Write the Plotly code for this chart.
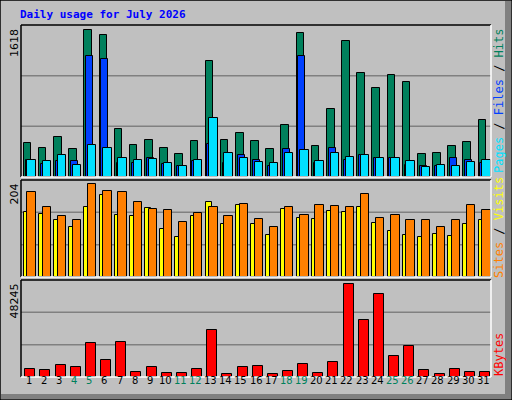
import plotly.graph_objects as go

days = list(range(1, 32))
day_labels = [str(d) for d in days]
weekend = [4, 5, 11, 12, 18, 19, 25, 26]
hits = [360,307,423,296,1566,1513,508,339,391,307,243,381,1238,391,465,381,296,550,1534,328,719,1449,1111,952,1090,1016,243,254,328,370,603]
files = [180,138,169,169,1291,1259,148,148,201,138,116,169,349,148,233,180,116,296,1291,148,307,180,233,201,201,127,116,116,201,180,148]
pages = [180,169,233,127,339,307,201,180,190,148,116,180,624,254,201,159,148,254,286,169,254,212,233,201,201,169,106,127,116,159,180]
sites = [136,132,119,106,147,172,130,128,145,102,85,128,157,111,151,111,89,142,125,123,138,136,147,113,96,89,85,91,87,111,119]
visits = [179,147,128,119,196,181,179,157,142,140,115,134,147,128,153,123,106,147,130,151,149,147,174,125,130,119,119,106,119,151,140]
kbytes = [4021,3518,6031,5026,17088,8544,17591,2513,5026,2010,2010,4021,23622,1508,5026,5529,1508,3016,6534,2010,7539,46239,28146,41213,10555,15581,3518,1508,4021,2513,2513]
max_hits, max_sites, max_kb = 1618, 204, 48245

fig = go.Figure()
ln = dict(color="black", width=1)
def bar(y, color, off, w, ax):
    fig.add_trace(go.Bar(x=days, y=y, marker=dict(color=color, line=ln), offset=off, width=w,
                         xaxis="x", yaxis=ax, hoverinfo="skip"))
bar(hits, "#00805C", -0.32, 0.5, "y")
bar(files, "#0040FF", -0.2, 0.45, "y")
bar(pages, "#00E0FF", -0.08, 0.55, "y")
bar(sites, "#FFFF00", -0.32, 0.4, "y2")
bar(visits, "#FF8000", -0.08, 0.55, "y2")
bar(kbytes, "#FF0000", -0.22, 0.66, "y3")

X0, X1 = 21/512, 491/512
def dom(a, b): return [1 - b/400, 1 - a/400]
ya = dict(showticklabels=False, showgrid=False, zeroline=False, fixedrange=True)
fig.update_layout(
    width=512, height=400, margin=dict(l=0, r=0, t=0, b=0), showlegend=False,
    paper_bgcolor="#C0C0C0", plot_bgcolor="#C0C0C0", barmode="overlay", bargap=0,
    xaxis=dict(domain=[X0, X1], range=[0.5, 31.5], showticklabels=False, showgrid=False, zeroline=False, anchor="y3"),
    yaxis=dict(domain=dom(25, 177), range=[0, max_hits], **ya),
    yaxis2=dict(domain=dom(180, 277), range=[0, max_sites], **ya),
    yaxis3=dict(domain=dom(280, 377), range=[0, max_kb], **ya),
)
shapes = []
for a in ["y", "y2", "y3"]:
    for f in (1/3, 2/3):
        shapes.append(dict(type="line", xref="x domain", yref=a + " domain", x0=0, x1=1, y0=f, y1=f,
                           line=dict(color="#808080", width=1.5), layer="below"))
for (a, b) in [(25, 177), (180, 277), (280, 377)]:
    shapes.append(dict(type="line", xref="paper", yref="paper", x0=X0, x1=X1, y0=1-a/400, y1=1-a/400, line=dict(color="black", width=1.5)))
    shapes.append(dict(type="line", xref="paper", yref="paper", x0=X0, x1=X0, y0=1-a/400, y1=1-b/400, line=dict(color="black", width=1.5)))
    shapes.append(dict(type="line", xref="paper", yref="paper", x0=X1, x1=X1, y0=1-a/400, y1=1-b/400, line=dict(color="white", width=1.5)))
    shapes.append(dict(type="line", xref="paper", yref="paper", x0=X0, x1=X1, y0=1-b/400, y1=1-b/400, line=dict(color="white", width=1.5)))
shapes += [
    dict(type="rect", xref="paper", yref="paper", x0=505/512, x1=511/512, y0=1/400, y1=1-1/400, fillcolor="#808080", line_width=0),
    dict(type="rect", xref="paper", yref="paper", x0=1/512, x1=511/512, y0=1/400, y1=6/400, fillcolor="#808080", line_width=0),
    dict(type="rect", xref="paper", yref="paper", x0=0, x1=1, y0=0, y1=1, line=dict(color="black", width=1.5)),
]
fig.update_layout(shapes=shapes)

F = "DejaVu Sans Mono"
ann = [dict(text="<b>Daily usage for July 2026</b>", x=18/512, y=1-15/400, xref="paper", yref="paper",
            xanchor="left", yanchor="middle", showarrow=False, font=dict(family=F, size=11, color="#0000FF"))]
for txt, top in [(str(max_hits), 25), (str(max_sites), 180), (str(max_kb), 280)]:
    ann.append(dict(text=txt, x=14/512, y=1-(top+2)/400, xref="paper", yref="paper", textangle=-90,
                    xanchor="center", yanchor="top", showarrow=False, font=dict(family="DejaVu Sans", size=11, color="black")))
def rlab(text, yc, color="black"):
    ann.append(dict(text=text, x=499/512, y=1-yc/400, xref="paper", yref="paper", textangle=-90, showarrow=False,
                    xanchor="center", yanchor="middle", font=dict(family=F, size=12, color=color)))
rlab('<span style="color:#00E0FF">Pages</span> / <span style="color:#0040FF">Files</span> / <span style="color:#00805C">Hits</span>', 101)
rlab('<span style="color:#FF8000">Sites</span> / <span style="color:#FFFF00">Visits</span>', 228)
rlab('KBytes', 355, "#FF0000")
for d, lab in zip(days, day_labels):
    ann.append(dict(text=lab, x=d, y=1-388/400, xref="x", yref="paper", showarrow=False,
                    font=dict(family="DejaVu Sans", size=10, color="#00805C" if d in weekend else "black")))
fig.update_layout(annotations=ann)
fig.write_html("out.html", config={"displayModeBar": False})
with open("out.html") as fh:
    html = fh.read()
html = html.replace("<head>", "<head><style>html,body{margin:0;padding:0;overflow:hidden}</style>", 1)
with open("out.html", "w") as fh:
    fh.write(html)
